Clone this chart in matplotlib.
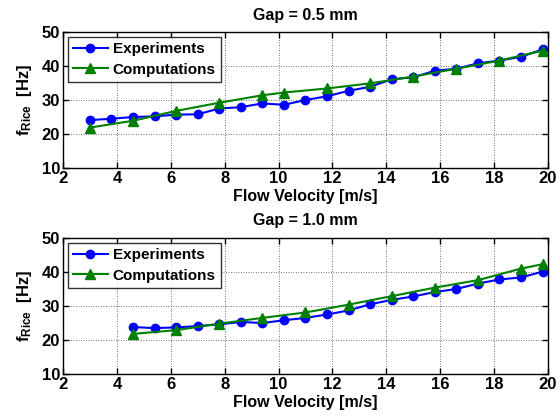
import matplotlib
matplotlib.use("Agg")
import matplotlib.pyplot as plt

plt.rcParams['font.family'] = ['Liberation Sans', 'DejaVu Sans']
plt.rcParams['font.weight'] = 'bold'
plt.rcParams['mathtext.fontset'] = 'custom'
plt.rcParams['mathtext.rm'] = 'Liberation Sans:bold'
plt.rcParams['mathtext.bf'] = 'Liberation Sans:bold'
plt.rcParams['mathtext.it'] = 'Liberation Sans:bold'

# Gap = 0.5 mm
exp1_x = [3.0, 3.8, 4.6, 5.4, 6.2, 7.0, 7.8, 8.6, 9.4, 10.2, 11.0, 11.8, 12.6, 13.4,
          14.2, 15.0, 15.8, 16.6, 17.4, 18.2, 19.0, 19.8]
exp1_y = [24.1, 24.5, 25.0, 25.2, 25.7, 25.8, 27.5, 27.9, 29.0, 28.6, 30.0, 31.1, 32.7, 33.9,
          36.1, 36.7, 38.6, 39.2, 40.8, 41.6, 42.7, 44.9]
comp1_x = [3.0, 4.6, 6.2, 7.8, 9.4, 10.2, 11.8, 13.4, 15.0, 16.6, 18.2, 19.8]
comp1_y = [21.9, 23.9, 26.8, 29.2, 31.4, 32.2, 33.4, 34.9, 36.9, 39.2, 41.6, 44.5]

# Gap = 1.0 mm
exp2_x = [4.6, 5.4, 6.2, 7.0, 7.8, 8.6, 9.4, 10.2, 11.0, 11.8, 12.6, 13.4, 14.2, 15.0,
          15.8, 16.6, 17.4, 18.2, 19.0, 19.8]
exp2_y = [23.8, 23.5, 23.7, 24.1, 24.6, 25.3, 25.0, 25.8, 26.5, 27.5, 28.7, 30.5, 31.8, 32.8,
          34.1, 35.0, 36.6, 37.8, 38.4, 40.1]
comp2_x = [4.6, 6.2, 7.8, 9.4, 11.0, 12.6, 14.2, 15.8, 17.4, 19.0, 19.8]
comp2_y = [21.8, 22.9, 24.8, 26.5, 28.1, 30.4, 32.9, 35.4, 37.6, 41.0, 42.3]

titles = ['Gap = 0.5 mm', 'Gap = 1.0 mm']
xticks = [2, 4, 6, 8, 10, 12, 14, 16, 18, 20]
yticks = [10, 20, 30, 40, 50]

fig = plt.figure(figsize=(5.6, 4.19), dpi=100)
ax1 = fig.add_axes([0.1125, 0.599, 0.866, 0.3246])
ax2 = fig.add_axes([0.1125, 0.1074, 0.866, 0.3246])

data = [(exp1_x, exp1_y, comp1_x, comp1_y), (exp2_x, exp2_y, comp2_x, comp2_y)]
for ax, (ex, ey, cx, cy), t in zip([ax1, ax2], data, titles):
    ax.plot(ex, ey, '-o', color='#0000FF', lw=1.5, ms=6, label='Experiments')
    ax.plot(cx, cy, '-^', color='#008000', lw=1.5, ms=6.5, label='Computations')
    ax.set_xlim(2, 20)
    ax.set_ylim(10, 50)
    ax.set_xticks(xticks)
    ax.set_yticks(yticks)
    ax.grid(True, linestyle=(0, (1, 2)), color='#444444', lw=0.6)
    ax.tick_params(direction='in', top=True, right=True, labelsize=12, length=4, width=1, pad=2)
    for lab in ax.get_xticklabels() + ax.get_yticklabels():
        lab.set_fontweight('bold')
    for s in ax.spines.values():
        s.set_linewidth(1.0)
    ax.set_title(t, fontsize=11.5, fontweight='bold', pad=9)
    ax.set_xlabel('Flow Velocity [m/s]', fontsize=11.5, fontweight='bold', labelpad=2)
    ax.set_ylabel(r'f$_{\mathrm{Rice}}$  [Hz]', fontsize=12, fontweight='bold', labelpad=6)
    leg = ax.legend(loc='upper left', fontsize=11, frameon=True, fancybox=False,
                    edgecolor='black', borderaxespad=0.3, handlelength=2.3,
                    borderpad=0.35, labelspacing=0.45, handletextpad=0.3)
    leg.get_frame().set_linewidth(1.0)
    for txt in leg.get_texts():
        txt.set_fontweight('bold')

fig.savefig('out.png', dpi=100)
